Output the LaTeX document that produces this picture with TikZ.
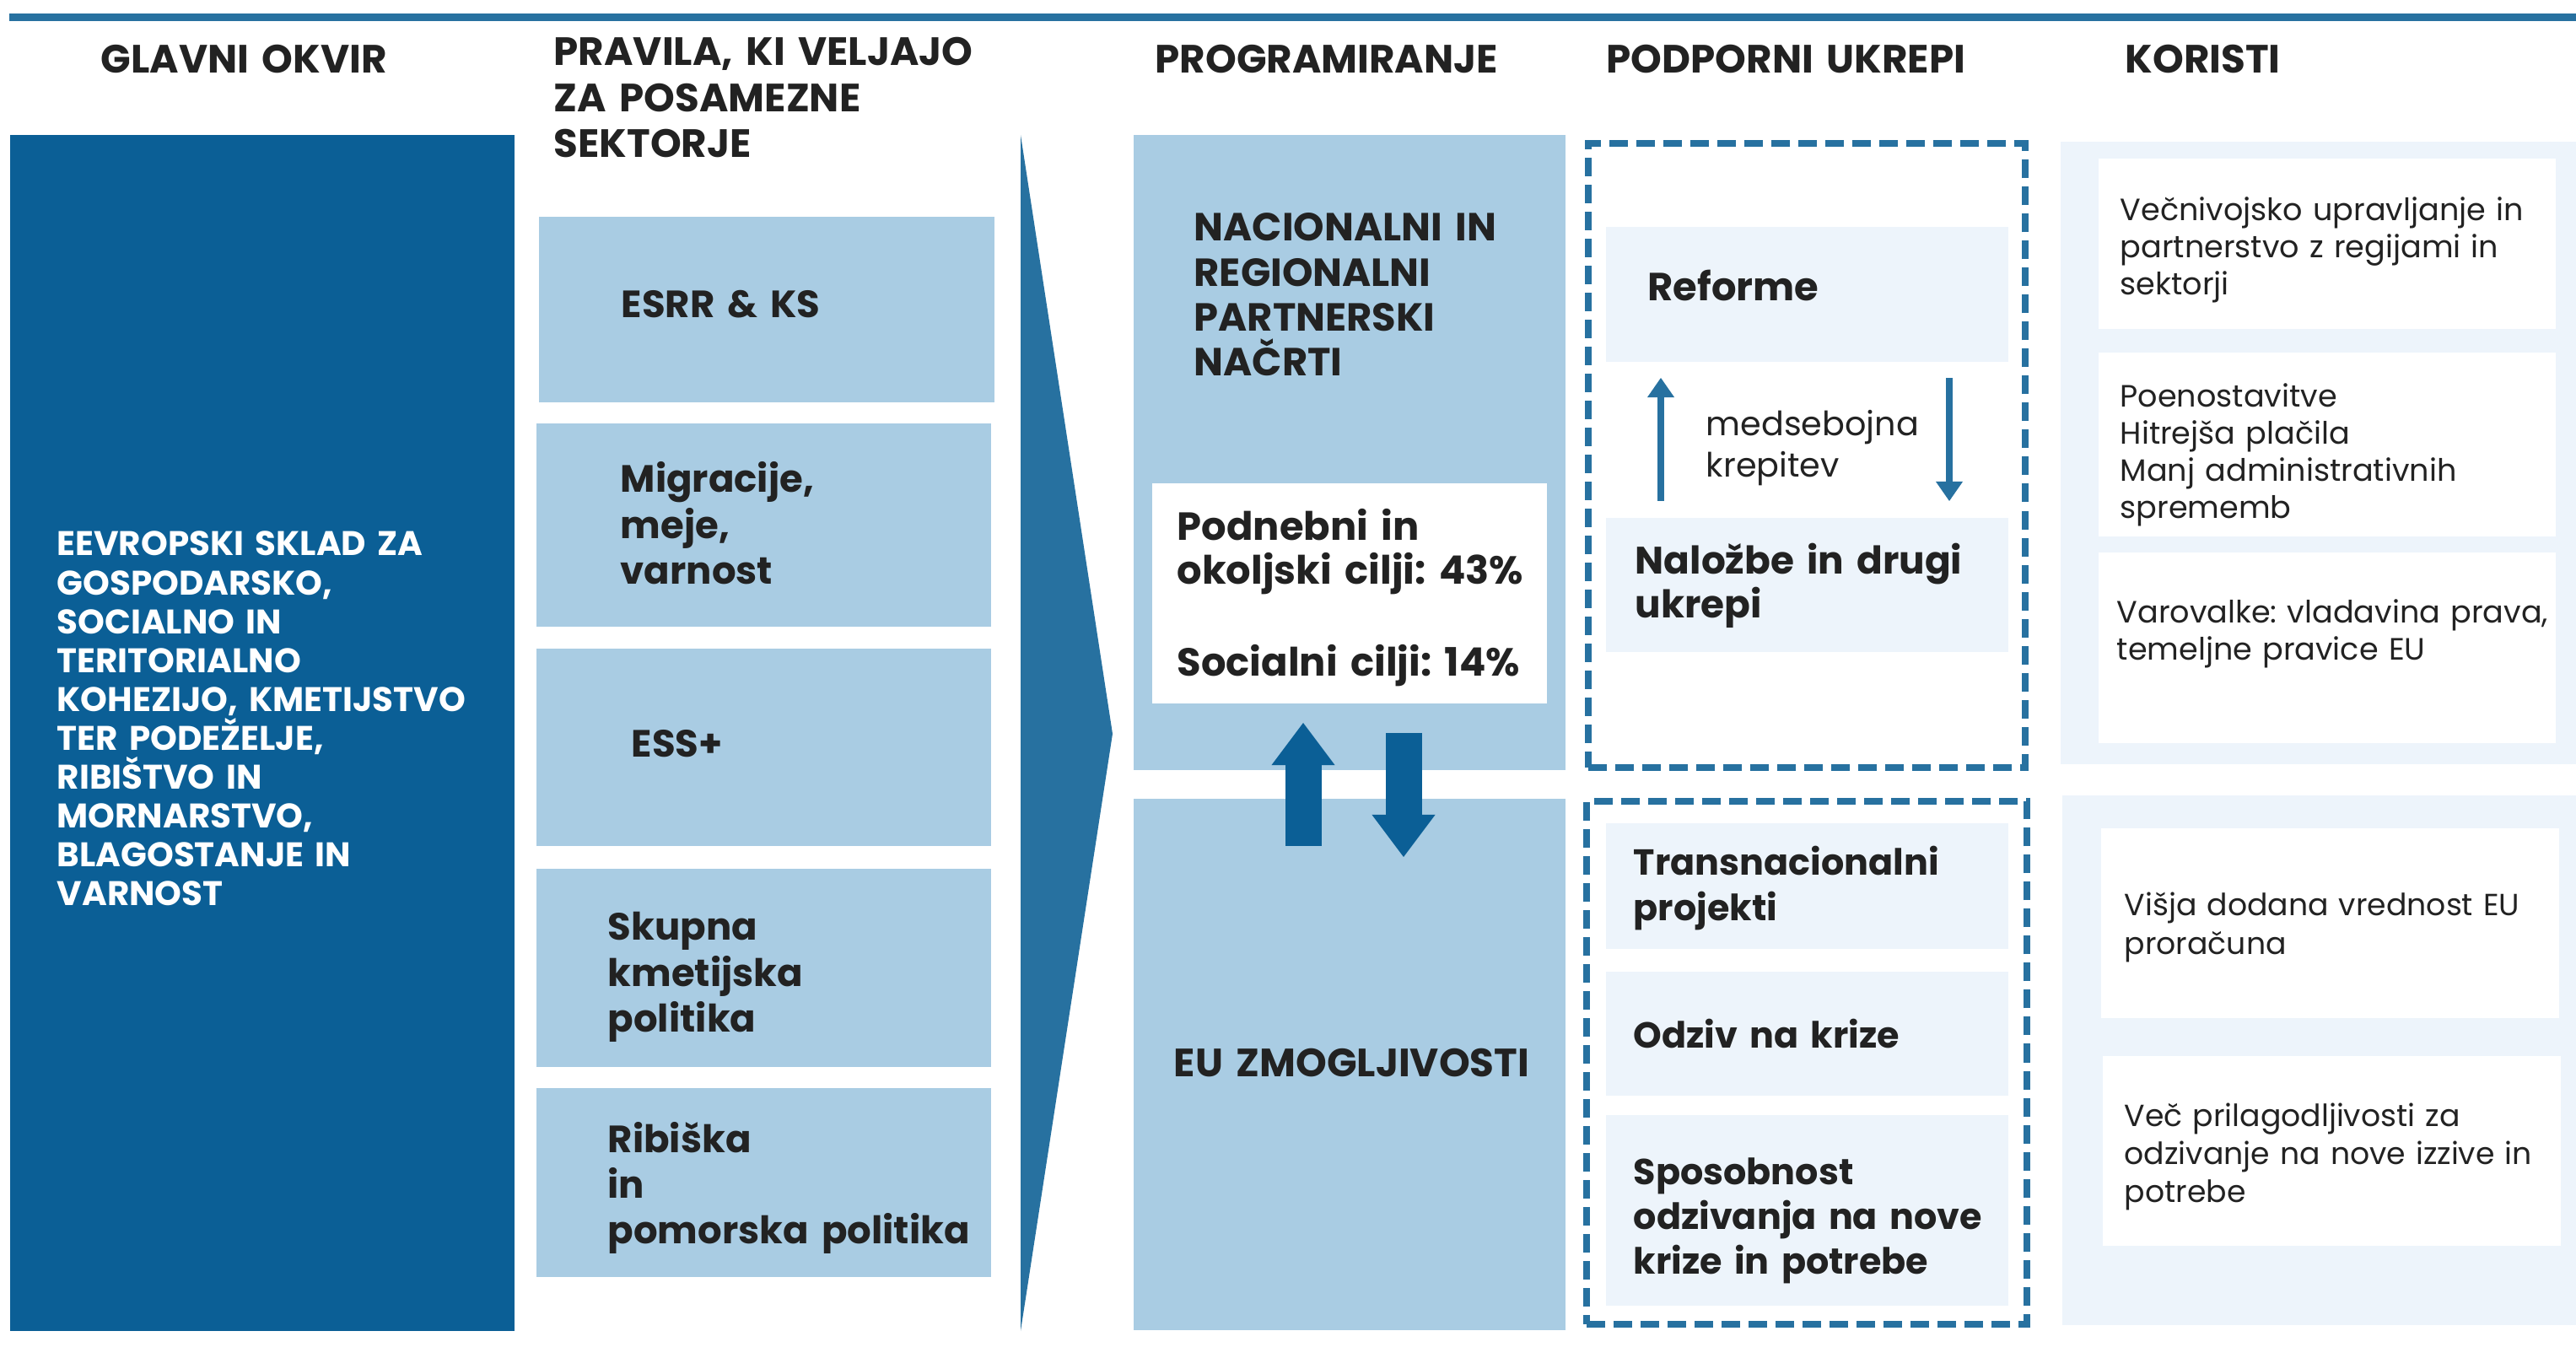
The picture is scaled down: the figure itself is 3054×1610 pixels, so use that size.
\documentclass[tikz,border=0pt]{standalone}
\usepackage{fontspec}
\setmainfont{Poppins}
\usetikzlibrary{fit,arrows.meta}
\frenchspacing

\definecolor{darkblue}{HTML}{0B5F96}
\definecolor{midblue}{HTML}{2771A0}
\definecolor{lightblue}{HTML}{A9CCE3}
\definecolor{paleblue}{HTML}{EDF4FB}
\definecolor{ink}{HTML}{222222}

\newcommand\fsz[2]{\fontsize{#1}{#2}\selectfont}

\tikzset{
  area/.style={fit={#1}, inner sep=0pt, outer sep=0pt},
  lbox/.style={area={#1}, fill=lightblue},
  pbox/.style={area={#1}, fill=paleblue},
  wbox/.style={area={#1}, fill=white},
  dbox/.style={area={#1}, draw=midblue, line width=0.075cm, dash pattern=on 0.22cm off 0.1cm},
  txt/.style={anchor=base west, inner sep=0pt, text=ink, align=left, text width=#1},
  txt/.default=6cm,
  head/.style={txt, font=\bfseries\fsz{13.3}{15.4}},
  sektor/.style={txt, font=\bfseries\fsz{12.8}{15.4}},
  big/.style={txt, font=\bfseries\fsz{13.2}{14.6}},
  small/.style={txt, font=\fsz{10.4}{12.5}},
  blockarrow/.style={darkblue, line width=0.43cm, -{Triangle[width=0.75cm, length=0.5cm, line width=0pt]}},
  thinarrow/.style={midblue, line width=0.08cm, -{Triangle[width=0.32cm, length=0.23cm, line width=0pt]}}
}

\begin{document}
\begin{tikzpicture}[x=0.01cm, y=-0.01cm]
  \useasboundingbox (0,0) rectangle (3054,1610);

  % top rule
  \draw[midblue, line width=0.09cm] (11,21) -- (3054,21);

  % column headings
  \node[head] (hOkvir) at (119,87) {GLAVNI OKVIR};
  \node[head] (hPravila) at (656,78) {PRAVILA, KI VELJAJO\\ZA POSAMEZNE\\SEKTORJE};
  \node[head] (hProg) at (1369,87) {PROGRAMIRANJE};
  \node[head] (hPodpora) at (1904,87) {PODPORNI UKREPI};
  \node[head] (hKoristi) at (2519,87) {KORISTI};

  % glavni okvir
  \node[area={(12,160) (610,1578)}, fill=darkblue] (okvir) {};
  \node[txt, text=white, font=\bfseries\fsz{11.5}{13.1}] (okvirT) at (67,659)
    {EEVROPSKI SKLAD ZA\\GOSPODARSKO,\\SOCIALNO IN\\TERITORIALNO\\KOHEZIJO, KMETIJSTVO\\TER PODEŽELJE,\\RIBIŠTVO IN\\MORNARSTVO,\\BLAGOSTANJE IN\\VARNOST};

  % sektorska pravila
  \node[lbox={(639,257) (1179,477)}] (esrr) {};
  \node[sektor] (esrrT) at (736,377) {ESRR \& KS};
  \node[lbox={(636,502) (1175,743)}] (migracije) {};
  \node[sektor] (migracijeT) at (735,584) {Migracije,\\meje,\\varnost};
  \node[lbox={(636,769) (1175,1003)}] (ess) {};
  \node[sektor] (essT) at (748,898) {ESS+};
  \node[lbox={(636,1030) (1175,1265)}] (kmetijstvo) {};
  \node[sektor] (kmetijstvoT) at (720,1115) {Skupna\\kmetijska\\politika};
  \node[lbox={(636,1290) (1175,1514)}] (ribistvo) {};
  \node[sektor] (ribistvoT) at (720,1366) {Ribiška\\in\\pomorska politika};

  % chevron
  \fill[midblue] (1210,160) -- (1319,870) -- (1210,1578) -- cycle;

  % programiranje
  \node[lbox={(1344,160) (1856,913)}] (nacrti) {};
  \node[txt, font=\bfseries\fsz{13.2}{15.1}] (nacrtiT) at (1415,286) {NACIONALNI IN\\REGIONALNI\\PARTNERSKI\\NAČRTI};
  \node[wbox={(1366,573) (1834,834)}] (cilji) {};
  \node[big] (ciljiT) at (1395,641) {Podnebni in\\okoljski cilji: 43\%};
  \node[big] (socialT) at (1395,802) {Socialni cilji: 14\%};
  \node[lbox={(1344,947) (1856,1577)}] (zmogljivosti) {};
  \node[txt, font=\bfseries\fsz{13.3}{15}] (zmogljivostiT) at (1391,1276) {EU ZMOGLJIVOSTI};

  \coordinate (gorA) at (1545,1003);
  \coordinate (gorB) at (1545,857);
  \coordinate (dolA) at (1664,869);
  \coordinate (dolB) at (1664,1016);
  \draw[blockarrow] (gorA) -- (gorB);
  \draw[blockarrow] (dolA) -- (dolB);

  % podporni ukrepi
  \node[pbox={(1904,269) (2381,429)}] (reforme) {};
  \node[big] (reformeT) at (1953,357) {Reforme};
  \node[pbox={(1904,614) (2381,773)}] (nalozbe) {};
  \node[txt, font=\bfseries\fsz{12.9}{14.6}] (nalozbeT) at (1938,681) {Naložbe in drugi\\ukrepi};
  \coordinate (levo) at (1969,0);
  \coordinate (desno) at (2311,0);
  \draw[thinarrow, shorten <=0.2cm, shorten >=0.19cm] (nalozbe.north -| levo) -- (reforme.south -| levo);
  \draw[thinarrow, shorten <=0.19cm, shorten >=0.2cm] (reforme.south -| desno) -- (nalozbe.north -| desno);
  \node[txt, font=\fsz{11.3}{13.9}] (krepitevT) at (2022,517) {medsebojna\\krepitev};
  \node[dbox={(1883,170) (2401,910)}] (ukrepiA) {};

  \node[pbox={(1904,976) (2381,1125)}] (transnac) {};
  \node[txt, font=\bfseries\fsz{12.2}{15.2}] (transnacT) at (1936,1038) {Transnacionalni\\projekti};
  \node[pbox={(1904,1152) (2381,1299)}] (odziv) {};
  \node[txt, font=\bfseries\fsz{12.2}{15.2}] (odzivT) at (1936,1242) {Odziv na krize};
  \node[pbox={(1904,1322) (2381,1548)}] (sposobnost) {};
  \node[txt, font=\bfseries\fsz{12.2}{15.2}] (sposobnostT) at (1936,1404) {Sposobnost\\odzivanja na nove\\krize in potrebe};
  \node[dbox={(1881,950) (2403,1570)}] (ukrepiB) {};

  % koristi
  \node[pbox={(2443,168) (3054,906)}] (koristiA) {};
  \node[wbox={(2488,188) (3030,390)}] (upravljanje) {};
  \node[small] (upravljanjeT) at (2513,262) {Večnivojsko upravljanje in\\partnerstvo z regijami in\\sektorji};
  \node[wbox={(2488,418) (3030,636)}] (poenostavitve) {};
  \node[small] (poenostavitveT) at (2513,483) {Poenostavitve\\Hitrejša plačila\\Manj administrativnih\\sprememb};
  \node[wbox={(2488,655) (3030,881)}] (varovalke) {};
  \node[small] (varovalkeT) at (2509,739) {Varovalke: vladavina prava,\\temeljne pravice EU};

  \node[pbox={(2445,943) (3054,1571)}] (koristiB) {};
  \node[wbox={(2491,982) (3034,1207)}] (vrednost) {};
  \node[txt, font=\fsz{10.3}{12.8}] (vrednostT) at (2518,1086) {Višja dodana vrednost EU\\proračuna};
  \node[wbox={(2493,1252) (3036,1477)}] (prilagodljivost) {};
  \node[txt, font=\fsz{10.3}{12.8}] (prilagodljivostT) at (2518,1335) {Več prilagodljivosti za\\odzivanje na nove izzive in\\potrebe};
\end{tikzpicture}
\end{document}
